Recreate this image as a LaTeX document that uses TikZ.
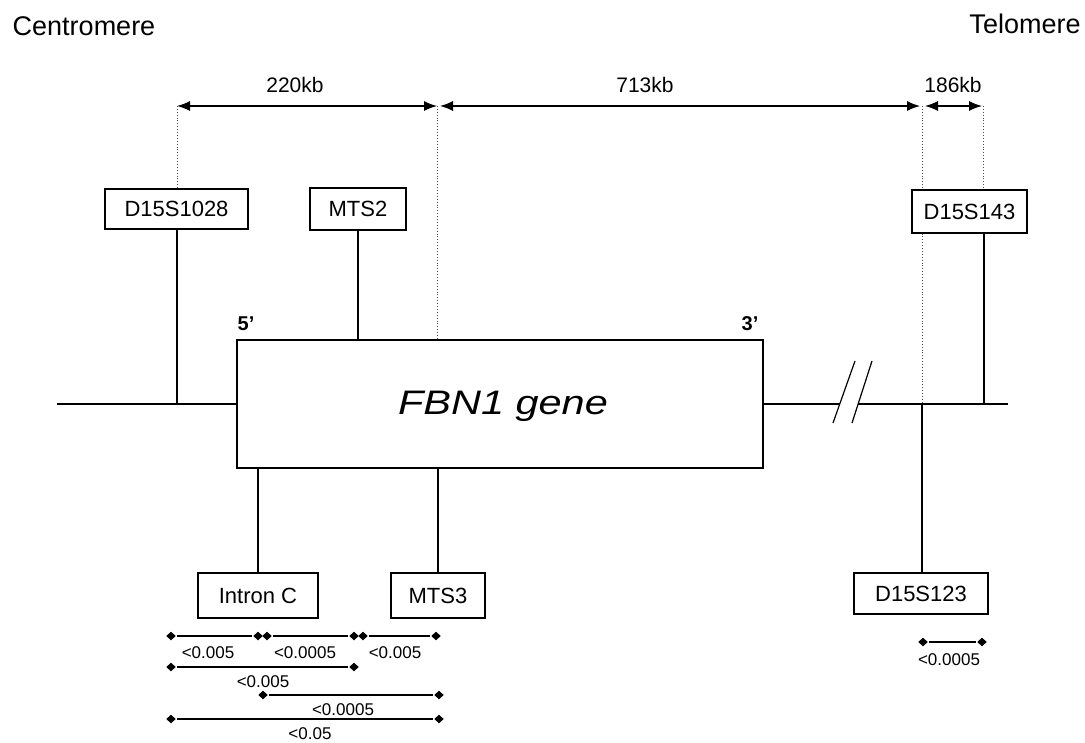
\documentclass[tikz,border=0pt]{standalone}
\usepackage{fontspec}
\setmainfont{Liberation Sans}
\usetikzlibrary{arrows.meta,shapes.geometric}
\begin{document}
\begin{tikzpicture}[x=1pt,y=-1pt,
  line width=1.2pt,
  lbl/.style={draw, line width=1.2pt, fill=white, inner sep=0pt, font=\fontsize{22}{24}\selectfont},
  endtxt/.style={font=\fontsize{27}{30}\selectfont, inner sep=0pt},
  kb/.style={font=\fontsize{21}{24}\selectfont, inner sep=0pt},
  pval/.style={font=\fontsize{17}{19}\selectfont, inner sep=0pt},
  dia/.style={diamond, fill=black, draw=none, inner sep=0pt, minimum width=10pt, minimum height=9pt},
  dimline/.style={{Latex[length=13pt,width=10pt]}-{Latex[length=13pt,width=10pt]}, line width=1.2pt},
  guide/.style={dotted, line width=0.9pt, black!70}]
\useasboundingbox (0,0) rectangle (1085,743);

% end labels
\node[endtxt] (cen) at (84,26) {Centromere};
\node[endtxt] (tel) at (1025,24) {Telomere};

% gene box
\node[draw, line width=1.2pt, minimum width=526pt, minimum height=128pt, inner sep=0pt] (gene) at (500,404) {};
\node[inner sep=0pt, font=\fontsize{34}{36}\selectfont\itshape] (genetxt) at (503,406) {\scalebox{1.22}[1]{FBN1 gene}};
\node[inner sep=0pt, font=\fontsize{20}{22}\selectfont\bfseries] (five) at (246,324) {5’};
\node[inner sep=0pt, font=\fontsize{20}{22}\selectfont\bfseries] (three) at (750,324) {3’};

% dimension arrows coordinates
\coordinate (a1) at (177,106);
\coordinate (a2) at (437,106);
\coordinate (a3) at (440,106);
\coordinate (a4) at (920,106);
\coordinate (a5) at (925,106);
\coordinate (a6) at (982,106);
\coordinate (g1) at (922,106);
\coordinate (g2) at (983,106);

% main line coordinates
\coordinate (mL) at (57,404);
\coordinate (jL) at (177,404);
\coordinate (b1) at (840,404);
\coordinate (b2) at (858,404);
\coordinate (jM) at (922,404);
\coordinate (jR) at (984,404);
\coordinate (mR) at (1008,404);
\coordinate (s1a) at (833,423);
\coordinate (s1b) at (855,361);
\coordinate (s2a) at (852,423);
\coordinate (s2b) at (872,361);

% guides (drawn first so boxes cover them)
\draw[guide] (a1) -- (177,189);
\draw[guide] (a2) -- (a2 |- gene.north);
\draw[guide] (g1) -- (jM);
\draw[guide] (g2) -- (983,190);

% marker boxes
\node[lbl, minimum width=143pt, minimum height=40pt] (d1028) at (176.5,209) {D15S1028};
\node[lbl, minimum width=96pt, minimum height=42pt] (mts2) at (358,209) {MTS2};
\node[lbl, minimum width=115pt, minimum height=43pt] (d143) at (969.5,211.5) {D15S143};
\node[lbl, minimum width=120pt, minimum height=45pt] (intron) at (258,595.5) {Intron C};
\node[lbl, minimum width=94pt, minimum height=45pt] (mts3) at (438,595.5) {MTS3};
\node[lbl, minimum width=134pt, minimum height=41pt] (d123) at (921,593.5) {D15S123};

% dimension arrows
\draw[dimline] (a1) -- (a2);
\draw[dimline] (a3) -- (a4);
\draw[dimline] (a5) -- (a6);
\node[kb] (k220) at (295,84.5) {220kb};
\node[kb] (k713) at (645,84.5) {713kb};
\node[kb] (k186) at (953,84.5) {186kb};

% main line
\draw (mL) -- (gene.west);
\draw (gene.east) -- (b1);
\draw (b2) -- (mR);
\draw (s1a) -- (s1b);
\draw (s2a) -- (s2b);

% connectors
\draw (jL |- d1028.south) -- (jL);
\draw (mts2.south) -- (mts2.south |- gene.north);
\draw (jR |- d143.south) -- (jR);
\draw (intron.north |- gene.south) -- (intron.north);
\draw (mts3.north |- gene.south) -- (mts3.north);
\draw (jM) -- (jM |- d123.north);

% significance bars
\node[dia] (r1a) at (171,636) {};
\node[dia] (r1b) at (258,636) {};
\node[dia] (r1c) at (267,636) {};
\node[dia] (r1d) at (354,636) {};
\node[dia] (r1e) at (363,636) {};
\node[dia] (r1f) at (436,636) {};
\draw (r1a) -- (r1b);
\draw (r1c) -- (r1d);
\draw (r1e) -- (r1f);
\node[pval] (p1) at (208,653) {<0.005};
\node[pval] (p2) at (305,653) {<0.0005};
\node[pval] (p3) at (395,653) {<0.005};

\node[dia] (r2a) at (171,667) {};
\node[dia] (r2b) at (354,667) {};
\draw (r2a) -- (r2b);
\node[pval] (p4) at (263,682) {<0.005};

\node[dia] (r3a) at (263,695) {};
\node[dia] (r3b) at (439,695) {};
\draw (r3a) -- (r3b);
\node[pval] (p5) at (343,710) {<0.0005};

\node[dia] (r4a) at (171,719) {};
\node[dia] (r4b) at (439,719) {};
\draw (r4a) -- (r4b);
\node[pval] (p6) at (310,734) {<0.05};

\node[dia] (r5a) at (923,642) {};
\node[dia] (r5b) at (982,642) {};
\draw (r5a) -- (r5b);
\node[pval] (p7) at (949,660) {<0.0005};
\end{tikzpicture}
\end{document}
